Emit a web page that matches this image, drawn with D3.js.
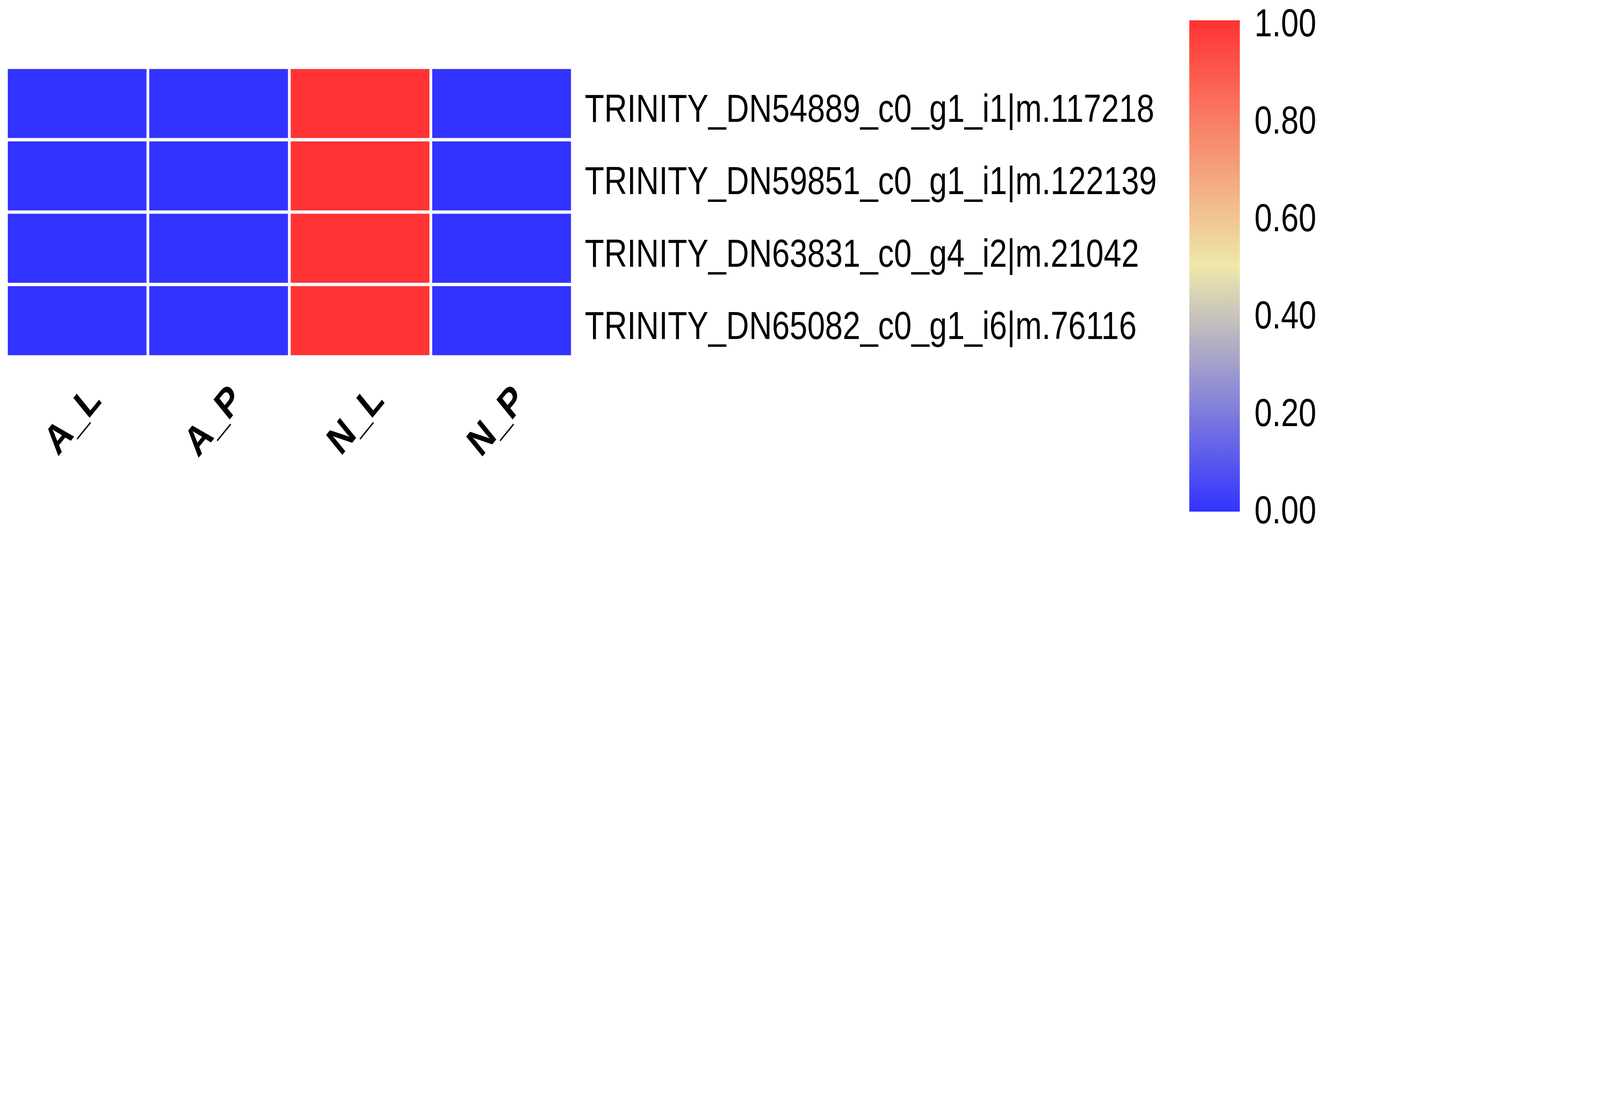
<!DOCTYPE html>
<html>
<head>
<meta charset="utf-8">
<script src="https://cdn.jsdelivr.net/npm/d3@7"></script>
<style>
  html, body { margin: 0; padding: 0; background: #ffffff; overflow: hidden; }
  text { font-family: "Liberation Sans", Arial, sans-serif; fill: #000000; }
</style>
</head>
<body>
<div id="chart"></div>
<script>
// data
const rowNames = [
    "TRINITY_DN54889_c0_g1_i1|m.117218",
    "TRINITY_DN59851_c0_g1_i1|m.122139",
    "TRINITY_DN63831_c0_g4_i2|m.21042",
    "TRINITY_DN65082_c0_g1_i6|m.76116"
];
const colNames = ["A_L", "A_P", "N_L", "N_P"];
const values = [
    [0, 0, 1, 0],
    [0, 0, 1, 0],
    [0, 0, 1, 0],
    [0, 0, 1, 0]
];
const legendTicks = [0, 0.2, 0.4, 0.6, 0.8, 1.0];
const paletteStops = [0, 0.5, 1];
const paletteColors = ["#3333FF", "#EEE8AA", "#FF3333"];

// drawing is laid out on the reference's 5033 x 2860 canvas and stretched to the window
const width = 5033;
const height = 2860;

const grid = { left: 20.3, top: 172.5, right: 1800.3, bottom: 913.7 };
const borderWidth = 8.4;
const rowFont = 100;
const colFont = 105;
const bar = { left: 3741, right: 3900, top: 52, bottom: 1310 };

const svg = d3.select("#chart")
    .append("svg")
    .attr("width", window.innerWidth || width)
    .attr("height", window.innerHeight || height)
    .attr("viewBox", `0 0 ${width} ${height}`)
    .attr("preserveAspectRatio", "none")
    .style("display", "block");

const x = d3.scaleBand().domain(colNames).range([grid.left, grid.right]);
const y = d3.scaleBand().domain(rowNames).range([grid.top, grid.bottom]);
const color = d3.scaleLinear().domain(paletteStops).range(paletteColors).interpolate(d3.interpolateRgb);

// cells
const cells = [];
rowNames.forEach((r, i) => colNames.forEach((c, j) => cells.push({ row: r, col: c, value: values[i][j] })));

svg.append("g")
    .selectAll("rect")
    .data(cells)
    .enter()
    .append("rect")
    .attr("x", d => x(d.col))
    .attr("y", d => y(d.row))
    .attr("width", x.bandwidth())
    .attr("height", y.bandwidth())
    .style("fill", d => color(d.value))
    .attr("stroke", "#ffffff")
    .attr("stroke-width", borderWidth);

// row labels
svg.append("g")
    .selectAll("text")
    .data(rowNames)
    .enter()
    .append("text")
    .attr("x", grid.right + 39.2)
    .attr("y", d => y(d) + y.bandwidth() / 2 + 47)
    .style("font-size", rowFont + "px")
    .text(d => d);

// column labels, rotated 45 degrees
svg.append("g")
    .selectAll("text")
    .data(colNames)
    .enter()
    .append("text")
    .attr("transform", d => `translate(${x(d) + x.bandwidth() / 2},${grid.bottom + 36.5}) rotate(-45)`)
    .attr("text-anchor", "end")
    .attr("dy", "112px")
    .style("font-size", colFont + "px")
    .style("font-weight", "bold")
    .text(d => d);

// colour legend
const defs = svg.append("defs");
const gradient = defs.append("linearGradient")
    .attr("id", "legend-gradient")
    .attr("x1", "0").attr("y1", "1")
    .attr("x2", "0").attr("y2", "0");
gradient.selectAll("stop")
    .data(d3.range(0, 1.0001, 0.02))
    .enter()
    .append("stop")
    .attr("offset", d => d)
    .attr("stop-color", d => color(d));

svg.append("rect")
    .attr("x", bar.left)
    .attr("y", bar.top)
    .attr("width", bar.right - bar.left)
    .attr("height", bar.bottom - bar.top)
    .style("fill", "url(#legend-gradient)");

const legendY = d3.scaleLinear().domain([0, 1]).range([bar.bottom - 6, bar.top + 5]);

svg.append("g")
    .selectAll("text")
    .data(legendTicks)
    .enter()
    .append("text")
    .attr("x", bar.right + 46)
    .attr("y", d => legendY(d))
    .attr("dy", "36px")
    .style("font-size", rowFont + "px")
    .text(d => d3.format(".2f")(d));
</script>
</body>
</html>
